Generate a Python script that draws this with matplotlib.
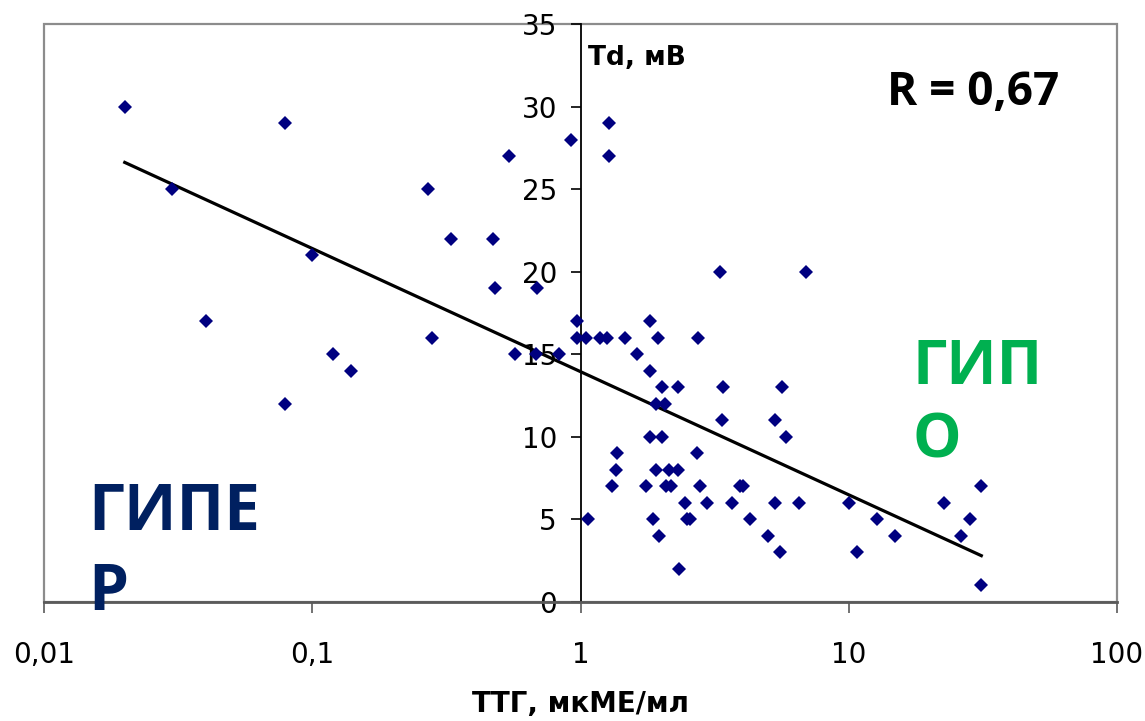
import numpy as np
import matplotlib
matplotlib.use("Agg")
from matplotlib import pyplot as plt
from matplotlib.patches import Rectangle

# ТТГ (мкМЕ/мл) и Td (мВ)
ttg = [0.020, 0.030, 0.040, 0.079, 0.079, 0.10, 0.12, 0.14, 0.27, 0.28,
       0.33, 0.47, 0.48, 0.54, 0.57, 0.69, 0.68, 0.83, 0.925, 0.967,
       0.967, 1.05, 1.18, 1.26, 1.47, 1.62, 1.82, 1.94, 1.82, 2.02,
       2.30, 1.92, 2.07, 1.82, 2.02, 2.73, 2.71, 1.37, 1.36, 1.31,
       1.07, 1.75, 1.92, 2.13, 2.30, 2.09, 2.18, 1.86, 1.97, 2.46,
       2.50, 2.57, 2.32, 2.78, 2.97, 3.41, 3.36, 3.66, 3.92, 4.05,
       4.27, 4.98, 5.33, 5.52, 5.29, 5.66, 5.86, 6.50, 9.98, 10.7,
       12.7, 14.9, 3.30, 6.95, 1.28, 1.28, 22.6, 26.1, 28.2, 31.2,
       31.2]
td = [30, 25, 17, 29, 12, 21, 15, 14, 25, 16,
      22, 22, 19, 27, 15, 19, 15, 15, 28, 17,
      16, 16, 16, 16, 16, 15, 17, 16, 14, 13,
      13, 12, 12, 10, 10, 16, 9, 9, 8, 7,
      5, 7, 8, 8, 8, 7, 7, 5, 4, 6,
      5, 5, 2, 7, 6, 13, 11, 6, 7, 7,
      5, 4, 6, 3, 11, 13, 10, 6, 6, 3,
      5, 4, 20, 20, 29, 27, 6, 4, 5, 7,
      1]

x_ticks = [0.01, 0.1, 1, 10, 100]
x_labels = ["0,01", "0,1", "1", "10", "100"]
y_ticks = [0, 5, 10, 15, 20, 25, 30, 35]

x = np.array(ttg)
y = np.array(td)

# логарифмическая линия тренда
b, a = np.polyfit(np.log10(x), y, 1)
xt = np.linspace(x.min(), x.max(), 200)
yt = a + b * np.log10(xt)

fig = plt.figure(figsize=(11.45, 7.21), dpi=100)
ax = fig.add_axes([44 / 1145, 1 - 602 / 721, 1073 / 1145, 578 / 721])

ax.plot(x, y, "D", color="#000080", markersize=7.5, markeredgewidth=0, zorder=3)
ax.plot(xt, yt, "-", color="black", lw=2.3, zorder=2)

ax.set_xscale("log")
ax.set_xlim(0.01, 100)
ax.set_ylim(0, 35)
ax.set_xticks(x_ticks)
ax.set_xticklabels(x_labels)
ax.minorticks_off()
ax.set_yticks(y_ticks)

for s in ["top", "right"]:
    ax.spines[s].set_visible(False)
ax.spines["left"].set_position(("data", 1))
ax.spines["left"].set_color("black")
ax.spines["left"].set_linewidth(1.3)
ax.spines["bottom"].set_color("#5a5a5a")
ax.spines["bottom"].set_linewidth(2)

# рамка области построения
ax.add_patch(Rectangle((0, 0), 1, 1, transform=ax.transAxes, fill=False,
                       ec="#8c8c8c", lw=1.6, clip_on=False, zorder=0))

ax.tick_params(axis="x", direction="out", length=8, width=1.2, pad=20,
               labelsize=20, color="#5a5a5a")
ax.tick_params(axis="y", direction="out", length=7, width=1.2, pad=10,
               labelsize=20)

ax.set_xlabel("ТТГ, мкМЕ/мл", fontsize=20, fontweight="bold", labelpad=15)

ax.text(0.507, 0.941, "Td, мВ", transform=ax.transAxes, fontsize=19,
        fontweight="bold", ha="left", va="center")
ax.text(0.786, 0.860, "R = 0,67", transform=ax.transAxes, fontsize=33,
        fontweight="bold", family="Open Sans", ha="left", va="baseline")
ax.text(0.041, -0.014, "ГИПЕ\nР", transform=ax.transAxes, fontsize=46,
        fontweight="bold", family="Open Sans", color="#002060",
        ha="left", va="baseline", linespacing=1.3, clip_on=False, zorder=4)
ax.text(0.809, 0.250, "ГИП\nО", transform=ax.transAxes, fontsize=44,
        fontweight="bold", family="Open Sans", color="#00b050",
        ha="left", va="baseline", linespacing=1.28)

fig.savefig("out.png", dpi=100)
